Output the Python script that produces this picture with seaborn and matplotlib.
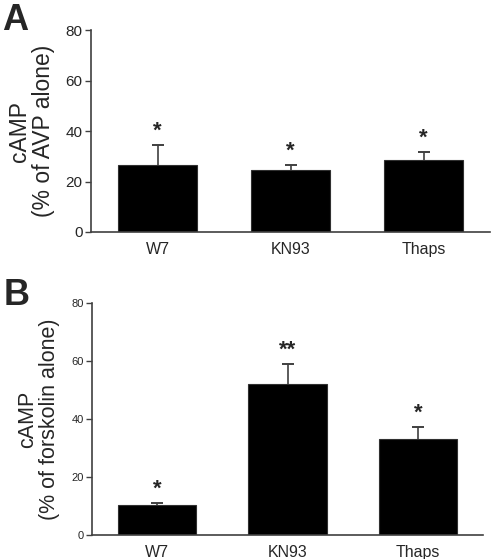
import numpy as np
import pandas as pd
import seaborn as sns
import matplotlib.pyplot as plt

# values
treatments = ["W7", "KN93", "Thaps"]
avp_mean = [26.5, 24.5, 28.5]
avp_sem = [8.0, 2.0, 3.3]
avp_marks = ["*", "*", "*"]
fsk_mean = [10.2, 52.0, 33.0]
fsk_sem = [0.8, 7.0, 4.2]
fsk_marks = ["*", "**", "*"]
yticks = [0, 20, 40, 60, 80]

sns.set_style("white")
plt.rcParams["font.family"] = ["Liberation Sans", "DejaVu Sans"]

spine_col = "#404040"

fig = plt.figure(figsize=(4.92, 5.59), dpi=100)
ax_a = fig.add_axes([0.185, 0.585, 0.811, 0.361])
ax_b = fig.add_axes([0.187, 0.043, 0.795, 0.415])


def draw_panel(ax, means, sems, marks, ylabel, tick_fs, xtick_fs, label_fs, star_gap):
    df = pd.DataFrame({"treatment": treatments, "cAMP": means})
    sns.barplot(data=df, x="treatment", y="cAMP", color="black", width=0.6,
                edgecolor="#303030", linewidth=0.8, saturation=1, errorbar=None, ax=ax)
    x = np.arange(len(treatments))
    tops = np.array(means) + np.array(sems)
    # upper error bar only, with a cap
    ax.vlines(x, means, tops, color=spine_col, linewidth=1.2, zorder=3)
    ax.errorbar(x, tops, yerr=0, fmt="none", ecolor=spine_col, capsize=4,
                capthick=1.2, elinewidth=0, zorder=3)
    for xi, t, mk in zip(x, tops, marks):
        ax.text(xi, t + star_gap, mk, ha="center", va="bottom",
                fontsize=16, fontweight="bold")
    ax.set_xlim(-0.5, 2.5)
    ax.set_ylim(0, 80)
    ax.set_yticks(yticks)
    ax.set_xlabel("")
    ax.set_ylabel(ylabel, fontsize=label_fs, linespacing=1.05, labelpad=8)
    ax.tick_params(axis="y", labelsize=tick_fs, length=4, width=1, color=spine_col,
                   direction="out", left=True, pad=2)
    ax.tick_params(axis="x", labelsize=xtick_fs, length=0, pad=7)
    for side in ["top", "right"]:
        ax.spines[side].set_visible(False)
    for side in ["left", "bottom"]:
        ax.spines[side].set_color(spine_col)
        ax.spines[side].set_linewidth(1.2)


draw_panel(ax_a, avp_mean, avp_sem, avp_marks, "cAMP\n(% of AVP alone)", 11, 11.5, 16.5, 1.2)
draw_panel(ax_b, fsk_mean, fsk_sem, fsk_marks, "cAMP\n(% of forskolin alone)", 8, 11.5, 15.5, 1.2)

fig.text(0.005, 0.995, "A", fontsize=26, fontweight="bold", ha="left", va="top")
fig.text(0.007, 0.503, "B", fontsize=26, fontweight="bold", ha="left", va="top")

fig.savefig("out.png", dpi=100)
